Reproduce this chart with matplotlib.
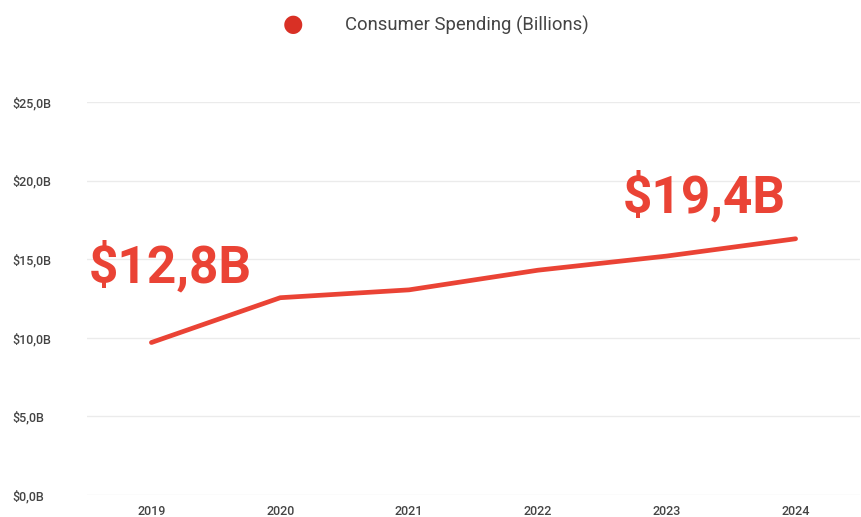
import numpy as np
import matplotlib.pyplot as plt

plt.rcParams['font.family'] = ['Roboto', 'DejaVu Sans']

years = ['2019', '2020', '2021', '2022', '2023', '2024']
spending = [9.7, 12.55, 13.05, 14.3, 15.2, 16.3]
y_ticks = [0, 5, 10, 15, 20, 25]
y_tick_labels = ['$0,0B', '$5,0B', '$10,0B', '$15,0B', '$20,0B', '$25,0B']
series_name = 'Consumer Spending (Billions)'
callouts = ['$12,8B', '$19,4B']

red = '#ea4335'
grey_text = '#444444'

fig = plt.figure(figsize=(8.62, 5.17), dpi=100)
ax = fig.add_axes([87 / 862, 22 / 517, 773 / 862, 393 / 517])

x = np.arange(len(years))
ax.plot(x, spending, color=red, lw=3.4, solid_capstyle='round',
        solid_joinstyle='round', zorder=3)

ax.set_xlim(-0.5, len(years) - 0.5)
ax.set_ylim(0, 25)
ax.set_xticks(x)
ax.set_xticklabels(years)
ax.set_yticks(y_ticks)
ax.set_yticklabels(y_tick_labels)

for lbl in ax.get_yticklabels():
    lbl.set_horizontalalignment('left')
# pads are in points: 75 px -> 54 pt
ax.tick_params(axis='y', length=0, pad=54, labelsize=9, labelcolor=grey_text)
ax.tick_params(axis='x', length=0, pad=7, labelsize=9, labelcolor=grey_text)
for lbl in ax.get_xticklabels() + ax.get_yticklabels():
    lbl.set_fontweight('medium')

ax.grid(axis='y', color='#ebebeb', lw=1)
ax.set_axisbelow(True)
for s in ax.spines.values():
    s.set_visible(False)

# big callouts at start and end of the line
ax.text(-0.485, 13.5, callouts[0], color=red, fontsize=37, fontweight='bold',
        ha='left', va='baseline')
ax.text(3.66, 17.95, callouts[1], color=red, fontsize=37, fontweight='bold',
        ha='left', va='baseline')

# legend
fig.text(293 / 862, 1 - 24 / 517, '\u25cf', color='#d93025', fontsize=17,
         ha='center', va='center', family=['DejaVu Sans'])
fig.text(345 / 862, 1 - 25 / 517, series_name, color=grey_text, fontsize=13.3,
         ha='left', va='center')

fig.savefig('out.png', dpi=100)
